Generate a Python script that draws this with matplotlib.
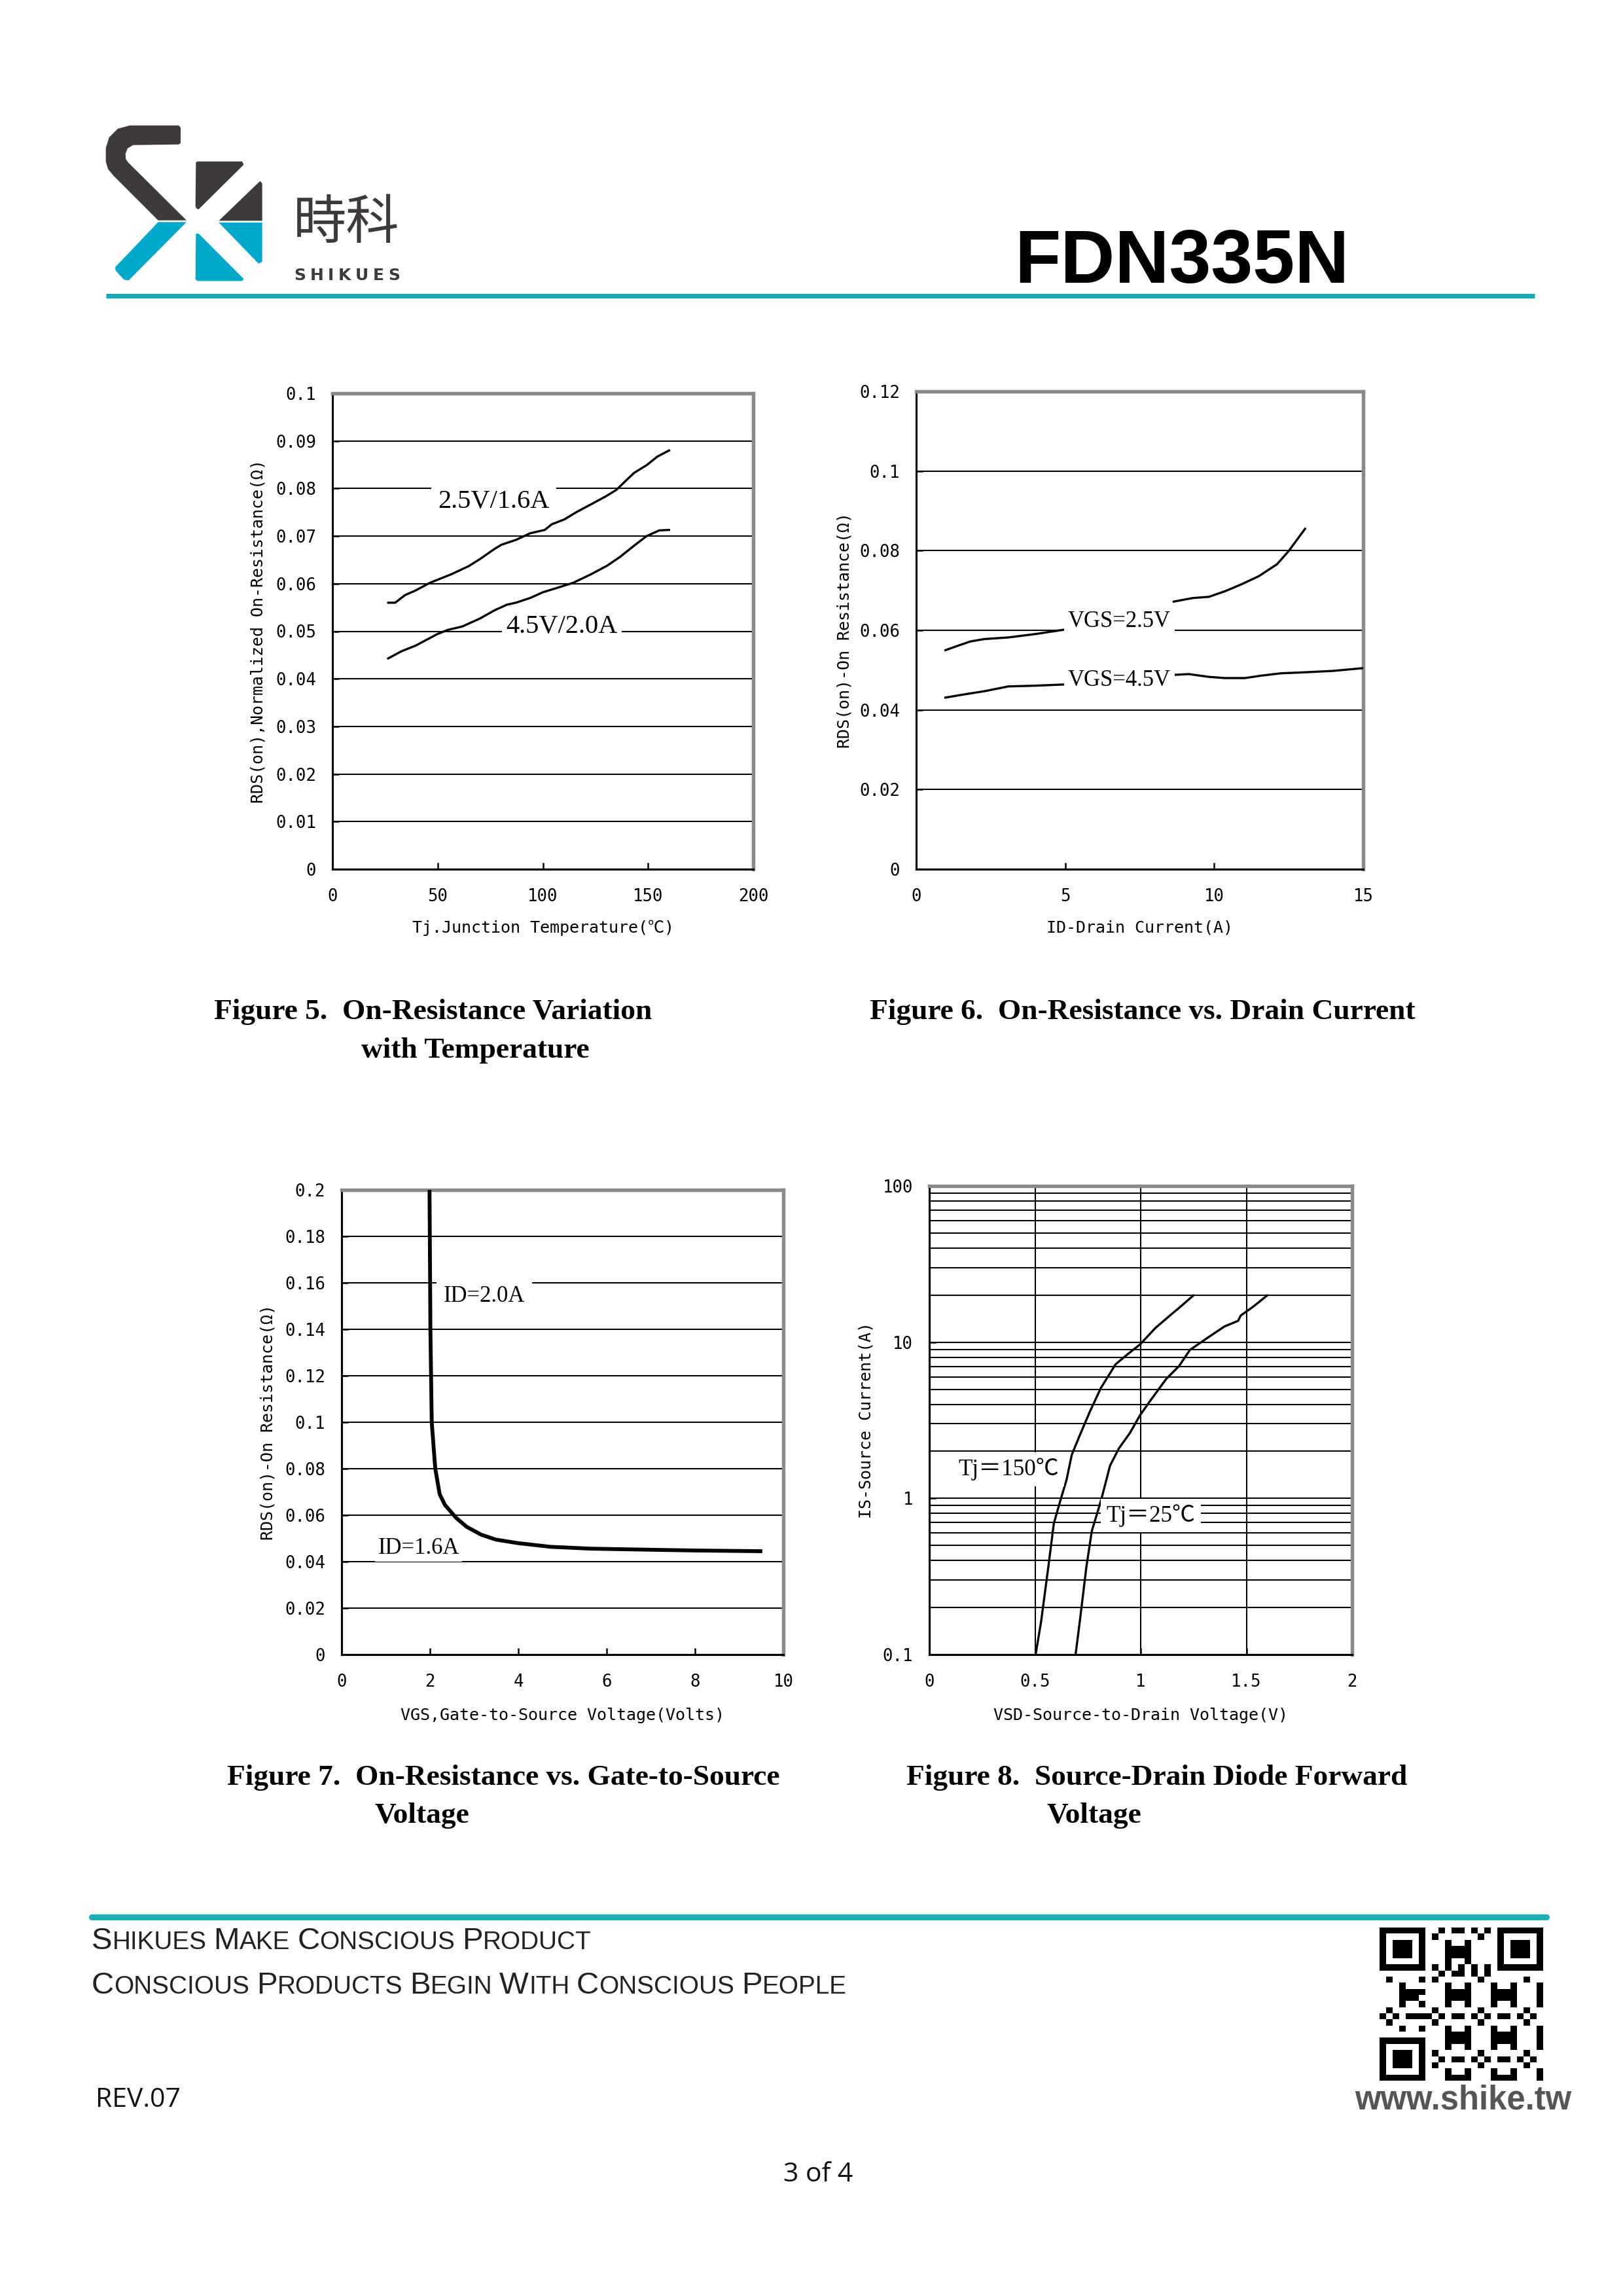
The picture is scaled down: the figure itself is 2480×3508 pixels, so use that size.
import numpy as np
import matplotlib
matplotlib.use("Agg")
import matplotlib.pyplot as plt
from matplotlib.patches import Polygon

# ---------------- data ----------------
# Figure 5: On-resistance vs junction temperature
fig5_t_a = [26.5, 29.8, 34.5, 39.6, 46.4, 56.6, 64.8, 70.2, 77.0, 80.4, 87.2, 94.0,
            100.9, 104.3, 110.2, 116.2, 123.0, 129.7, 134.9, 139.1, 143.4, 149.3, 154.4, 160.0]
fig5_r_a = [0.0560, 0.0560, 0.0576, 0.0586, 0.0602, 0.0620, 0.0637, 0.0652, 0.0673, 0.0682,
            0.0692, 0.0706, 0.0713, 0.0725, 0.0735, 0.0751, 0.0767, 0.0783, 0.0797, 0.0815,
            0.0833, 0.0849, 0.0867, 0.0880]
fig5_t_b = [26.5, 32.8, 39.6, 44.7, 49.8, 54.9, 61.7, 70.2, 77.0, 83.0, 87.2, 94.0, 100.0,
            105.9, 114.5, 123.0, 130.6, 136.6, 143.4, 149.3, 155.3, 160.0]
fig5_r_b = [0.0443, 0.0458, 0.0470, 0.0482, 0.0494, 0.0503, 0.0510, 0.0527, 0.0544, 0.0556,
            0.0560, 0.0570, 0.0582, 0.0590, 0.0602, 0.0620, 0.0638, 0.0656, 0.0680, 0.0700,
            0.0712, 0.0713]
fig5_labels = ["2.5V/1.6A", "4.5V/2.0A"]
fig5_xticks = [0, 50, 100, 150, 200]
fig5_yticks = [0, 0.01, 0.02, 0.03, 0.04, 0.05, 0.06, 0.07, 0.08, 0.09, 0.1]
fig5_yticklabels = ["0", "0.01", "0.02", "0.03", "0.04", "0.05", "0.06", "0.07",
                    "0.08", "0.09", "0.1"]

# Figure 6: On-resistance vs drain current
nan = float("nan")
fig6_i_a = [0.98, 1.35, 1.82, 2.29, 3.09, 4.04, 5.0, nan, 8.64, 9.28, 9.82, 10.36, 10.90,
            11.50, 12.11, 12.51, 13.05]
fig6_r_a = [0.0550, 0.0560, 0.0572, 0.0578, 0.0582, 0.0591, 0.0602, nan, 0.0672, 0.0681,
            0.0684, 0.0698, 0.0715, 0.0736, 0.0766, 0.0800, 0.0855]
fig6_i_b = [0.98, 1.61, 2.29, 3.09, 4.04, 5.0, nan, 8.64, 9.15, 9.82, 10.36, 11.03, 11.57,
            12.24, 12.91, 13.99, 15.0]
fig6_r_b = [0.0431, 0.0439, 0.0447, 0.0459, 0.0461, 0.0464, nan, 0.0488, 0.0490, 0.0483,
            0.0480, 0.0480, 0.0486, 0.0492, 0.0494, 0.0498, 0.0505]
fig6_labels = ["VGS=2.5V", "VGS=4.5V"]
fig6_xticks = [0, 5, 10, 15]
fig6_yticks = [0, 0.02, 0.04, 0.06, 0.08, 0.1, 0.12]
fig6_yticklabels = ["0", "0.02", "0.04", "0.06", "0.08", "0.1", "0.12"]

# Figure 7: On-resistance vs gate-to-source voltage
fig7_v = [1.99, 2.00, 2.01, 2.04, 2.12, 2.22, 2.34, 2.59, 2.83, 3.16, 3.49, 3.98, 4.72,
          5.62, 6.77, 8.00, 9.48]
fig7_r = [0.200, 0.170, 0.140, 0.100, 0.080, 0.069, 0.0644, 0.0589, 0.0550, 0.0516, 0.0495,
          0.0480, 0.0464, 0.0456, 0.0452, 0.0448, 0.0445]
fig7_labels = ["ID=2.0A", "ID=1.6A"]
fig7_xticks = [0, 2, 4, 6, 8, 10]
fig7_yticks = [0, 0.02, 0.04, 0.06, 0.08, 0.1, 0.12, 0.14, 0.16, 0.18, 0.2]
fig7_yticklabels = ["0", "0.02", "0.04", "0.06", "0.08", "0.1", "0.12", "0.14",
                    "0.16", "0.18", "0.2"]

# Figure 8: Source-drain diode forward voltage
fig8_v_150 = [0.503, 0.529, 0.563, 0.589, 0.623, 0.649, 0.674, 0.709, 0.760, 0.812, 0.881,
              0.932, 0.997, 1.069, 1.138, 1.189, 1.249]
fig8_i_150 = [0.1, 0.163, 0.363, 0.690, 1.0, 1.31, 1.90, 2.48, 3.60, 5.10, 7.21, 8.24, 9.67,
              12.3, 14.8, 16.9, 19.9]
fig8_v_25 = [0.692, 0.712, 0.743, 0.769, 0.795, 0.815, 0.855, 0.897, 0.949, 0.997, 1.052,
             1.121, 1.181, 1.233, 1.318, 1.396, 1.461, 1.473, 1.533, 1.598]
fig8_i_25 = [0.1, 0.163, 0.363, 0.620, 0.809, 1.0, 1.62, 2.09, 2.62, 3.41, 4.34, 5.82, 7.02,
             8.92, 10.7, 12.6, 13.7, 14.8, 16.9, 19.9]
fig8_labels = ["Tj\uff1d150\u2103", "Tj\uff1d25\u2103"]
fig8_xticks = [0, 0.5, 1, 1.5, 2]
fig8_xticklabels = ["0", "0.5", "1", "1.5", "2"]
fig8_yticks = [0.1, 1, 10, 100]
fig8_yticklabels = ["0.1", "1", "10", "100"]

captions = [
    ["Figure 5.  On-Resistance Variation", "with Temperature"],
    ["Figure 6.  On-Resistance vs. Drain Current"],
    ["Figure 7.  On-Resistance vs. Gate-to-Source", "Voltage"],
    ["Figure 8.  Source-Drain Diode Forward", "Voltage"],
]

# ---------------- page ----------------
W, H = 2480, 3508
fig = plt.figure(figsize=(W / 300, H / 300), dpi=300)
fig.patch.set_facecolor("white")
bg = fig.add_axes([0, 0, 1, 1], zorder=0)
bg.axis("off")

MONO = ["DejaVu Sans Mono", "Noto Sans CJK SC"]
SERIF = ["Liberation Serif", "Noto Sans CJK SC"]
DARK = "#3e3a39"
CYAN = "#00a8ca"
TEAL = "#16aab8"

# logo polygons (crop coordinates, 1/3 scale from origin 140,180)
def lp(pts):
    return [(140 + x / 3.0, 180 + y / 3.0) for x, y in pts]

logo_dark = [
    [(175, 35), (400, 35), (408, 45), (408, 115), (400, 122), (190, 125), (165, 140),
     (155, 165), (157, 190), (168, 205), (435, 470), (305, 470), (100, 265), (75, 235),
     (65, 200), (65, 140), (80, 90), (120, 50)],
    [(478, 205), (485, 200), (690, 200), (697, 215), (490, 420), (480, 415), (476, 405)],
    [(583, 472), (772, 290), (782, 300), (782, 472)],
]
logo_cyan = [
    [(305, 478), (435, 478), (170, 745), (148, 742), (110, 700), (108, 685)],
    [(583, 480), (782, 480), (782, 660), (765, 668)],
    [(478, 532), (490, 530), (697, 738), (690, 748), (485, 748), (476, 740)],
]
for p in logo_dark:
    bg.add_patch(Polygon(lp(p), closed=True, facecolor=DARK, edgecolor="none"))
for p in logo_cyan:
    bg.add_patch(Polygon(lp(p), closed=True, facecolor=CYAN, edgecolor="none"))

bg.text(448, 342, "\u6642\u79d1", fontsize=19.5, family=["Noto Sans CJK SC"], color=DARK,
        ha="left", va="center")

renderer = fig.canvas.get_renderer()

def spaced(x, y, text, size, gap, **kw):
    for ch in text:
        t = bg.text(x, y, ch, fontsize=size, ha="left", va="baseline", **kw)
        x += t.get_window_extent(renderer).width + gap

spaced(449, 428, "SHIKUES", 6.0, 6.5, family="DejaVu Sans", weight="bold", color=DARK)

bg.text(1550, 432, "FDN335N", fontsize=27.6, family="Liberation Sans", weight="bold",
        color="black", ha="left", va="baseline")

bg.plot([162, 2345], [452, 452], color=TEAL, lw=1.7, solid_capstyle="butt")

# ---------------- axes helpers ----------------
def add_ax(l, t, r, b):
    return fig.add_axes([l / W, 1 - b / H, (r - l) / W, (b - t) / H], zorder=2)

def style(ax, xticks, xticklabels, yticks, yticklabels, ylabel, xlabel, ylab_x, xlab_y):
    ax.set_xticks(xticks)
    ax.set_xticklabels(xticklabels, family=MONO, fontsize=6.2)
    ax.set_yticks(yticks)
    ax.set_yticklabels(yticklabels, family=MONO, fontsize=6.2)
    ax.tick_params(axis="x", direction="in", length=2.5, width=0.6, pad=7.0, top=False)
    ax.tick_params(axis="y", direction="in", length=2.5, width=0.6, pad=6, right=False)
    ax.tick_params(which="minor", length=0)
    for s in ("left", "bottom"):
        ax.spines[s].set_color("black")
        ax.spines[s].set_linewidth(0.75)
    for s in ("top", "right"):
        ax.spines[s].set_color("#8a8a8a")
        ax.spines[s].set_linewidth(1.3)
    ax.set_ylabel(ylabel, family=MONO, fontsize=6.0)
    ax.set_xlabel(xlabel, family=MONO, fontsize=6.0)
    ax.yaxis.set_label_coords(ylab_x, 0.5)
    ax.xaxis.set_label_coords(0.5, xlab_y)
    ax.yaxis.label.set_va("center")
    ax.xaxis.label.set_va("center")
    ax.set_axisbelow(True)

def label(ax, x, y, s, size, pad, weight="normal"):
    ax.text(x, y, s, fontsize=size, family=SERIF, weight=weight, ha="center", va="center",
            zorder=5, bbox=dict(facecolor="white", edgecolor="none", pad=pad))

GRID = dict(color="black", lw=0.5)

# Figure 5
ax5 = add_ax(508, 601, 1151, 1328)
ax5.set_xlim(0, 200)
ax5.set_ylim(0, 0.1)
ax5.plot(fig5_t_a, fig5_r_a, color="black", lw=0.8, zorder=3)
ax5.plot(fig5_t_b, fig5_r_b, color="black", lw=0.8, zorder=3)
style(ax5, fig5_xticks, [str(v) for v in fig5_xticks], fig5_yticks, fig5_yticklabels,
      "RDS(on),Normalized On-Resistance(\u03a9)", "Tj.Junction Temperature(\u2103)",
      -0.177, -0.124)
ax5.yaxis.grid(True, **GRID)
label(ax5, 76.7, 0.0772, fig5_labels[0], 9.7, 2.5)
label(ax5, 109.0, 0.0509, fig5_labels[1], 9.7, 1.5)

# Figure 6
ax6 = add_ax(1400, 598, 2083, 1328)
ax6.set_xlim(0, 15)
ax6.set_ylim(0, 0.12)
ax6.plot(fig6_i_a, fig6_r_a, color="black", lw=0.8, zorder=3)
ax6.plot(fig6_i_b, fig6_r_b, color="black", lw=0.8, zorder=3)
style(ax6, fig6_xticks, [str(v) for v in fig6_xticks], fig6_yticks, fig6_yticklabels,
      "RDS(on)-On Resistance(\u03a9)", "ID-Drain Current(A)", -0.161, -0.123)
ax6.yaxis.grid(True, **GRID)
label(ax6, 6.82, 0.0623, fig6_labels[0], 8.3, 1.5)
label(ax6, 6.82, 0.0474, fig6_labels[1], 8.3, 1.5)

# Figure 7
ax7 = add_ax(522, 1818, 1197, 2528)
ax7.set_xlim(0, 10)
ax7.set_ylim(0, 0.2)
ax7.plot(fig7_v, fig7_r, color="black", lw=1.4, zorder=3)
style(ax7, fig7_xticks, [str(v) for v in fig7_xticks], fig7_yticks, fig7_yticklabels,
      "RDS(on)-On Resistance(\u03a9)", "VGS,Gate-to-Source Voltage(Volts)", -0.166, -0.131)
ax7.yaxis.grid(True, **GRID)
label(ax7, 3.23, 0.1542, fig7_labels[0], 8.3, 2.5)
label(ax7, 1.74, 0.0459, fig7_labels[1], 8.3, 1.0)

# Figure 8
ax8 = add_ax(1420, 1812, 2066, 2528)
ax8.set_yscale("log")
ax8.set_xlim(0, 2)
ax8.set_ylim(0.1, 100)
ax8.plot(fig8_v_150, fig8_i_150, color="black", lw=0.8, zorder=3)
ax8.plot(fig8_v_25, fig8_i_25, color="black", lw=0.8, zorder=3)
style(ax8, fig8_xticks, fig8_xticklabels, fig8_yticks, fig8_yticklabels,
      "IS-Source Current(A)", "VSD-Source-to-Drain Voltage(V)", -0.149, -0.13)
ax8.yaxis.set_minor_locator(matplotlib.ticker.LogLocator(base=10, subs=np.arange(2, 10)))
ax8.yaxis.set_minor_formatter(matplotlib.ticker.NullFormatter())
ax8.yaxis.grid(True, which="both", **GRID)
ax8.xaxis.grid(True, **GRID)
label(ax8, 0.374, 1.535, fig8_labels[0], 8.4, 2.0)
label(ax8, 1.049, 0.775, fig8_labels[1], 8.4, 2.0)

# captions
cap_pos = [[(327, 1546), (552, 1605)], [(1329, 1546)],
           [(347, 2716), (572, 2774)], [(1385, 2716), (1599, 2774)]]
for lines, poss in zip(captions, cap_pos):
    for s, (x, y) in zip(lines, poss):
        bg.text(x, y, s, fontsize=10.9, family="Liberation Serif", weight="bold",
                ha="left", va="center", color="black")

# ---------------- footer ----------------
bg.plot([140, 2363], [2929, 2929], color="#1cb0b2", lw=2.2, solid_capstyle="round")

def small_caps(x, y, text, big, small, **kw):
    space = small * 300 / 72 * 0.28
    for word in text.split(" "):
        pieces = [(word[0], big), (word[1:].upper(), small)]
        for s, size in pieces:
            if not s:
                continue
            t = bg.text(x, y, s, fontsize=size, ha="left", va="baseline", **kw)
            x += t.get_window_extent(renderer).width
        x += space

FOOT = dict(family=["Liberation Sans Narrow", "Liberation Sans"], color="#222222")
small_caps(140, 2978, "Shikues Make Conscious Product", 11.4, 9.3, **FOOT)
small_caps(140, 3046, "Conscious Products Begin With Conscious People", 11.4, 9.3, **FOOT)

bg.text(146, 3209, "REV.07", fontsize=9.8, family="Open Sans", ha="left", va="center",
        color="#111111")
bg.text(2236, 3209, "www.shike.tw", fontsize=12.2, family="Liberation Sans", weight="bold",
        ha="center", va="center", color="#555555")
bg.text(1250, 3323, "3 of 4", fontsize=9.8, family="Open Sans", ha="center", va="center",
        color="#111111")

# QR-like code block
n = 25
qr = np.zeros((n, n))
for i in range(n):
    for j in range(n):
        qr[i, j] = 1.0 if ((i * i * 3 + j * 5 + i * j * 7 + j * j) % 7) < 3 else 0.0
for (r0, c0) in [(0, 0), (0, n - 7), (n - 7, 0)]:
    rr0, rr1 = max(r0 - 1, 0), min(r0 + 8, n)
    cc0, cc1 = max(c0 - 1, 0), min(c0 + 8, n)
    qr[rr0:rr1, cc0:cc1] = 0
    qr[r0:r0 + 7, c0:c0 + 7] = 1
    qr[r0 + 1:r0 + 6, c0 + 1:c0 + 6] = 0
    qr[r0 + 2:r0 + 5, c0 + 2:c0 + 5] = 1
for k in range(8, n - 8):
    qr[6, k] = (k + 1) % 2
    qr[k, 6] = (k + 1) % 2
bg.imshow(qr, cmap="gray_r", vmin=0, vmax=1, extent=[2108, 2358, 3179, 2945],
          interpolation="nearest", aspect="auto")

bg.set_xlim(0, W)
bg.set_ylim(H, 0)

fig.savefig("out.png", dpi=300, facecolor="white")
